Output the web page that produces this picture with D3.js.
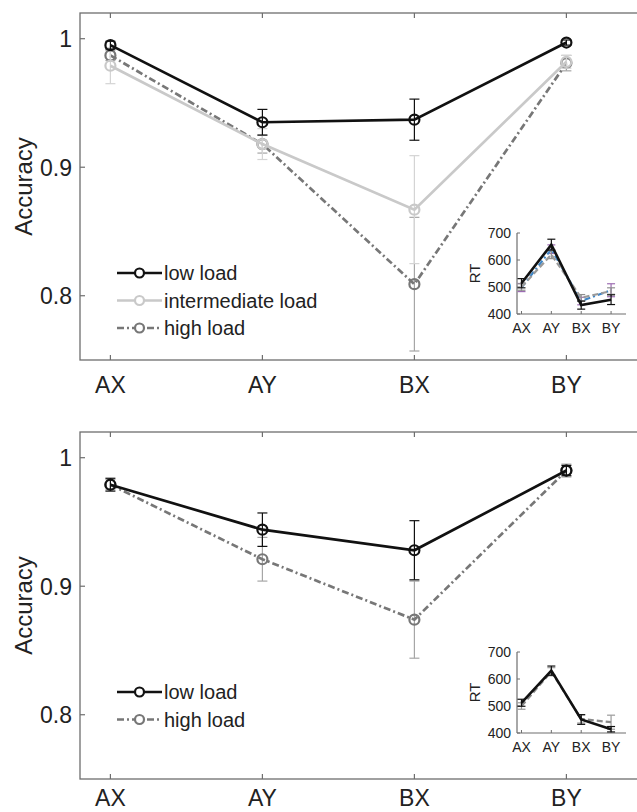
<!DOCTYPE html>
<html>
<head>
<meta charset="utf-8">
<script src="https://cdn.jsdelivr.net/npm/d3@7"></script>
<style>
  body { margin: 0; background: #fff; }
  svg { display: block; font-family: 'Liberation Sans', Arial, sans-serif; }
</style>
</head>
<body>
<div id="chart"></div>
<script>
(function() {
  'use strict';

  // conditions and ticks
  var conditions = ['AX', 'AY', 'BX', 'BY'];
  var accTicks = [0.8, 0.9, 1];
  var rtTicks = [400, 500, 600, 700];

  // panel 1 accuracy (mean, sem)
  var acc1Low = [0.995, 0.935, 0.937, 0.997];
  var acc1LowErr = [0.003, 0.010, 0.016, 0.002];
  var acc1Mid = [0.979, 0.918, 0.867, 0.982];
  var acc1MidErr = [0.014, 0.012, 0.042, 0.005];
  var acc1High = [0.987, 0.918, 0.809, 0.981];
  var acc1HighErr = [0.004, 0.007, 0.052, 0.006];

  // panel 1 RT inset
  var rt1Low = [514, 657, 433, 453];
  var rt1LowErr = [17, 20, 15, 18];
  var rt1Mid = [500, 620, 460, 485];
  var rt1MidErr = [12, 15, 12, 12];
  var rt1High = [498, 640, 448, 488];
  var rt1HighErr = [15, 16, 14, 24];

  // panel 2 accuracy
  var acc2Low = [0.979, 0.944, 0.928, 0.990];
  var acc2LowErr = [0.005, 0.013, 0.023, 0.004];
  var acc2High = [0.979, 0.921, 0.874, 0.990];
  var acc2HighErr = [0.004, 0.017, 0.030, 0.005];

  // panel 2 RT inset
  var rt2Low = [512, 631, 450, 414];
  var rt2LowErr = [13, 17, 18, 10];
  var rt2High = [500, 627, 452, 440];
  var rt2HighErr = [12, 15, 15, 26];

  var width = 637, height = 812;
  var axisColor = '#6e6e6e', textColor = '#222';

  var svg = d3.select('#chart').append('svg')
    .attr('width', width)
    .attr('height', height);

  function drawErrorBars(g, x, y, means, errs, color, cap, sw) {
    var eb = g.append('g').attr('class', 'errbars')
      .attr('stroke', color).attr('stroke-width', sw).attr('fill', 'none');
    means.forEach(function(m, i) {
      var cx = x(i + 1);
      eb.append('line').attr('x1', cx).attr('x2', cx)
        .attr('y1', y(m - errs[i])).attr('y2', y(m + errs[i]));
      [m - errs[i], m + errs[i]].forEach(function(v) {
        eb.append('line').attr('x1', cx - cap).attr('x2', cx + cap)
          .attr('y1', y(v)).attr('y2', y(v));
      });
    });
  }

  function drawSeries(g, x, y, s, opts) {
    drawErrorBars(g, x, y, s.values, s.errs, s.errColor || s.color, opts.cap, opts.errWidth);
    var line = d3.line()
      .x(function(d, i) { return x(i + 1); })
      .y(function(d) { return y(d); });
    g.append('path')
      .datum(s.values)
      .attr('d', line)
      .attr('fill', 'none')
      .attr('stroke', s.color)
      .attr('stroke-width', opts.lineWidth)
      .attr('stroke-dasharray', s.dash || null);
    if (opts.markers) {
      g.selectAll(null)
        .data(s.values)
        .enter().append('circle')
        .attr('cx', function(d, i) { return x(i + 1); })
        .attr('cy', function(d) { return y(d); })
        .attr('r', 5)
        .attr('fill', 'none')
        .attr('stroke', s.color)
        .attr('stroke-width', 2.2);
    }
  }

  function drawPanel(top, labelOffset, series, inset) {
    var left = 80, right = 642.4, bottom = top + 347;
    var x = d3.scaleLinear().domain([0.8, 4.5]).range([left, right]);
    var y = d3.scaleLinear().domain([0.75, 1.02]).range([bottom, top]);
    var g = svg.append('g');

    // box
    g.append('rect')
      .attr('x', left).attr('y', top)
      .attr('width', right - left).attr('height', bottom - top)
      .attr('fill', 'none').attr('stroke', axisColor).attr('stroke-width', 1.3);

    // ticks inward on all sides
    var tk = g.append('g').attr('stroke', axisColor).attr('stroke-width', 1.2);
    conditions.forEach(function(c, i) {
      var cx = x(i + 1);
      tk.append('line').attr('x1', cx).attr('x2', cx).attr('y1', bottom).attr('y2', bottom - 5);
      tk.append('line').attr('x1', cx).attr('x2', cx).attr('y1', top).attr('y2', top + 5);
    });
    accTicks.forEach(function(v) {
      tk.append('line').attr('x1', left).attr('x2', left + 5).attr('y1', y(v)).attr('y2', y(v));
      tk.append('line').attr('x1', right).attr('x2', right - 5).attr('y1', y(v)).attr('y2', y(v));
    });

    // tick labels
    g.selectAll('.xl').data(conditions).enter().append('text')
      .attr('x', function(d, i) { return x(i + 1); })
      .attr('y', bottom + labelOffset)
      .attr('text-anchor', 'middle')
      .attr('font-size', 23)
      .attr('fill', textColor)
      .text(function(d) { return d; });
    g.selectAll('.yl').data(accTicks).enter().append('text')
      .attr('x', left - 8)
      .attr('y', function(d) { return y(d); })
      .attr('dy', '0.36em')
      .attr('text-anchor', 'end')
      .attr('font-size', 23)
      .attr('fill', textColor)
      .text(function(d) { return d === 1 ? '1' : d3.format('.1f')(d); });
    g.append('text')
      .attr('transform', 'translate(32,' + (top + bottom) / 2 + ') rotate(-90)')
      .attr('text-anchor', 'middle')
      .attr('font-size', 24)
      .attr('fill', textColor)
      .text('Accuracy');

    // series, drawn back to front
    series.slice().reverse().forEach(function(s) {
      drawSeries(g, x, y, s, { cap: 5, errWidth: 1.2, lineWidth: 2.7, markers: true });
    });

    // legend
    var lg = g.append('g');
    series.forEach(function(s, i) {
      var ly = top + 260 + i * 27.5;
      lg.append('line')
        .attr('x1', 117).attr('x2', 162).attr('y1', ly).attr('y2', ly)
        .attr('stroke', s.color).attr('stroke-width', 2.7)
        .attr('stroke-dasharray', s.dash || null);
      lg.append('circle')
        .attr('cx', 139.5).attr('cy', ly).attr('r', 4.5)
        .attr('fill', '#fff').attr('stroke', s.color).attr('stroke-width', 2.2);
      lg.append('text')
        .attr('x', 164).attr('y', ly).attr('dy', '0.36em')
        .attr('font-size', 20).attr('fill', textColor)
        .text(s.name);
    });

    // RT inset
    var ix = d3.scaleLinear().domain([0.85, 4.5]).range([517, 626]);
    var iy = d3.scaleLinear().domain([400, 700]).range([top + 301, top + 220]);
    var ig = g.append('g');
    ig.append('line').attr('x1', 517).attr('x2', 517).attr('y1', iy(700)).attr('y2', iy(400))
      .attr('stroke', axisColor).attr('stroke-width', 1.2);
    ig.append('line').attr('x1', 517).attr('x2', 626).attr('y1', iy(400)).attr('y2', iy(400))
      .attr('stroke', axisColor).attr('stroke-width', 1.2);
    conditions.forEach(function(c, i) {
      ig.append('line').attr('x1', ix(i + 1)).attr('x2', ix(i + 1))
        .attr('y1', iy(400)).attr('y2', iy(400) - 3)
        .attr('stroke', axisColor);
    });
    rtTicks.forEach(function(v) {
      ig.append('line').attr('x1', 517).attr('x2', 520)
        .attr('y1', iy(v)).attr('y2', iy(v)).attr('stroke', axisColor);
    });
    ig.selectAll('.ixl').data(conditions).enter().append('text')
      .attr('x', function(d, i) { return ix(i + 1); })
      .attr('y', iy(400) + 19)
      .attr('text-anchor', 'middle')
      .attr('font-size', 14).attr('fill', textColor)
      .text(function(d) { return d; });
    ig.selectAll('.iyl').data(rtTicks).enter().append('text')
      .attr('x', 511)
      .attr('y', function(d) { return iy(d); })
      .attr('dy', '0.36em')
      .attr('text-anchor', 'end')
      .attr('font-size', 14).attr('fill', textColor)
      .text(function(d) { return d; });
    ig.append('text')
      .attr('transform', 'translate(480,' + (iy(400) + iy(700)) / 2 + ') rotate(-90)')
      .attr('text-anchor', 'middle')
      .attr('font-size', 15).attr('fill', textColor)
      .text('RT');
    inset.slice().reverse().forEach(function(s) {
      drawSeries(ig, ix, iy, s, { cap: 4, errWidth: 1.2, lineWidth: s.width || 2.2, markers: false });
    });
  }

  drawPanel(13, 33, [
    { name: 'low load', values: acc1Low, errs: acc1LowErr, color: '#111' },
    { name: 'intermediate load', values: acc1Mid, errs: acc1MidErr, color: '#c9c9c9', errColor: '#d4d4d4' },
    { name: 'high load', values: acc1High, errs: acc1HighErr, color: '#777', errColor: '#a6a6a6', dash: '7,3,2,3' }
  ], [
    { values: rt1Low, errs: rt1LowErr, color: '#111', width: 2.6 },
    { values: rt1Mid, errs: rt1MidErr, color: '#9a9a9a', errColor: '#8e8e8e', dash: '6,3' },
    { values: rt1High, errs: rt1HighErr, color: '#3f86c6', errColor: '#9c6cb2', dash: '6,3,2,3' }
  ]);

  drawPanel(432, 27, [
    { name: 'low load', values: acc2Low, errs: acc2LowErr, color: '#111' },
    { name: 'high load', values: acc2High, errs: acc2HighErr, color: '#777', errColor: '#a6a6a6', dash: '7,3,2,3' }
  ], [
    { values: rt2Low, errs: rt2LowErr, color: '#111', width: 2.6 },
    { values: rt2High, errs: rt2HighErr, color: '#8a8a8a', errColor: '#9a9a9a', dash: '6,3' }
  ]);
})();
</script>
</body>
</html>
